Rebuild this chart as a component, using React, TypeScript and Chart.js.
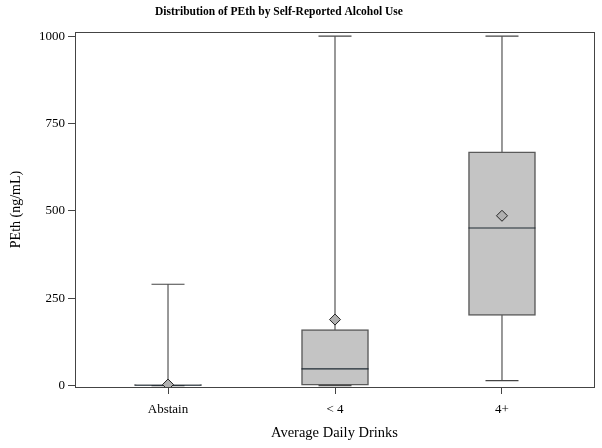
import React, { useEffect, useRef } from "react";
import { Chart, registerables } from "chart.js";

Chart.register(...registerables);

const categories = ["Abstain", "< 4", "4+"];
const whiskerLow = [0, 0, 14];
const q1 = [0, 0, 201];
const median = [1, 48, 451];
const q3 = [3, 160, 669];
const whiskerHigh = [290, 1000, 1000];
const means = [3, 189, 486];
const yTicks = [0, 250, 500, 750, 1000];

const TITLE = "Distribution of PEth by Self-Reported Alcohol Use";
const FONT = "'Liberation Serif', 'Times New Roman', serif";

export default function App() {
  const ref = useRef<HTMLCanvasElement | null>(null);

  useEffect(() => {
    if (!ref.current) return;

    const whiskerData: any[] = [];
    categories.forEach((_, i) => {
      whiskerData.push({ x: i, y: whiskerLow[i] });
      whiskerData.push({ x: i, y: whiskerHigh[i] });
      whiskerData.push({ x: i, y: null });
    });
    const capData: any[] = [];
    categories.forEach((_, i) => {
      capData.push({ x: i, y: whiskerLow[i] });
      capData.push({ x: i, y: whiskerHigh[i] });
    });

    const framePlugin = {
      id: "frameAndTitle",
      afterDraw(chart: any) {
        const { ctx, chartArea } = chart;
        ctx.save();
        ctx.strokeStyle = "#444";
        ctx.lineWidth = 1;
        ctx.strokeRect(
          Math.round(chartArea.left) + 0.5,
          Math.round(chartArea.top) + 0.5,
          Math.round(chartArea.right - chartArea.left),
          Math.round(chartArea.bottom - chartArea.top)
        );
        ctx.fillStyle = "#000";
        ctx.font = `bold 11.5px ${FONT}`;
        ctx.textAlign = "center";
        ctx.textBaseline = "middle";
        ctx.fillText(TITLE, 279, 12);
        ctx.restore();
      },
    };

    const chart = new Chart(ref.current, {
      type: "bar",
      data: {
        datasets: [
          {
            type: "scatter",
            label: "means",
            data: categories.map((_, i) => ({ x: i, y: means[i] })),
            pointStyle: "rectRot",
            pointRadius: 5.5,
            backgroundColor: "#b0b0b0",
            borderColor: "#222",
            borderWidth: 1,
            order: 0,
          } as any,
          {
            type: "scatter",
            label: "median",
            data: categories.map((_, i) => ({ x: i, y: median[i] })),
            pointStyle: "line",
            pointRadius: 33.5,
            borderColor: "#1e2a33",
            borderWidth: 1.2,
            order: 1,
          } as any,
          {
            type: "bar",
            label: "box",
            data: categories.map((_, i) => ({ x: i, y: [q1[i], q3[i]] })),
            backgroundColor: "#c4c4c4",
            borderColor: "#5a5a5a",
            borderWidth: 1.5,
            borderSkipped: false,
            barThickness: 67,
            order: 2,
          } as any,
          {
            type: "scatter",
            label: "caps",
            data: capData,
            pointStyle: "line",
            pointRadius: 16.5,
            borderColor: "#444",
            borderWidth: 1.2,
            order: 3,
          } as any,
          {
            type: "line",
            label: "whiskers",
            data: whiskerData,
            borderColor: "#555",
            borderWidth: 1.2,
            pointRadius: 0,
            spanGaps: false,
            order: 4,
          } as any,
        ],
      },
      options: {
        responsive: false,
        animation: false,
        layout: { autoPadding: false, padding: { top: 32, right: 8, left: 0, bottom: 0 } },
        plugins: {
          legend: { display: false },
          tooltip: { enabled: false },
          title: { display: false },
        },
        scales: {
          x: {
            type: "linear",
            offset: false,
            min: -0.557,
            max: 2.551,
            afterBuildTicks: (scale: any) => {
              scale.ticks = categories.map((_, i) => ({ value: i }));
            },
            afterFit: (scale: any) => {
              scale.height = 61;
              scale.paddingLeft = 0;
              scale.paddingRight = 0;
            },
            ticks: {
              callback: (v: any) => categories[v] ?? "",
              color: "#000",
              font: { family: FONT, size: 13 },
              padding: 8,
              maxRotation: 0,
              autoSkip: false,
            },
            grid: {
              offset: false,
              drawOnChartArea: false,
              drawTicks: true,
              tickLength: 7,
              color: "#444",
            },
            border: { display: false },
            title: {
              display: true,
              text: "Average Daily Drinks",
              color: "#000",
              font: { family: FONT, size: 14.5 },
              padding: { top: 0, bottom: 6 },
            },
          },
          y: {
            type: "linear",
            min: -4,
            max: 1012,
            afterBuildTicks: (scale: any) => {
              scale.ticks = yTicks.map((v) => ({ value: v }));
            },
            afterFit: (scale: any) => {
              scale.width = 75;
              scale.paddingTop = 0;
              scale.paddingBottom = 0;
            },
            ticks: {
              callback: (v: any) => String(v),
              color: "#000",
              font: { family: FONT, size: 13 },
              padding: 3,
            },
            grid: {
              drawOnChartArea: false,
              drawTicks: true,
              tickLength: 7,
              color: "#444",
            },
            border: { display: false },
            title: {
              display: true,
              text: "PEth (ng/mL)",
              color: "#000",
              font: { family: FONT, size: 14 },
              padding: { top: 8, bottom: 0 },
            },
          },
        },
      } as any,
      plugins: [framePlugin],
    });

    return () => chart.destroy();
  }, []);

  return (
    <div style={{ position: "fixed", left: 0, top: 0, width: 602, height: 448, background: "#fff" }}>
      <canvas ref={ref} width={602} height={448} style={{ display: "block" }} />
    </div>
  );
}
